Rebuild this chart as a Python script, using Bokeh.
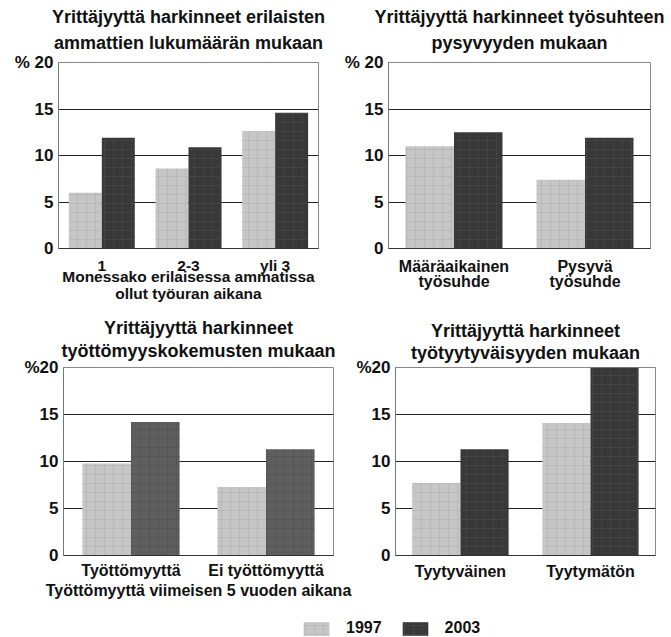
from bokeh.plotting import figure
from bokeh.layouts import column, row
from bokeh.models import (Range1d, FactorRange, FixedTicker, ColumnDataSource,
                          Legend, LegendItem, Title)
from bokeh.transform import dodge
from bokeh.embed import file_html
from bokeh.resources import INLINE

FONT = "Liberation Sans"

# ---- data ----
title1 = ["Yrittäjyyttä harkinneet erilaisten", "ammattien lukumäärän mukaan"]
cats1 = ["1", "2-3", "yli 3"]
v1997_1 = [6.0, 8.6, 12.6]
v2003_1 = [11.9, 10.9, 14.6]
xlabel1 = "Monessako erilaisessa ammatissa\nollut työuran aikana"

title2 = ["Yrittäjyyttä harkinneet työsuhteen", "pysyvyyden mukaan"]
cats2 = ["Määräaikainen\ntyösuhde", "Pysyvä\ntyösuhde"]
v1997_2 = [11.0, 7.4]
v2003_2 = [12.5, 11.9]

title3 = ["Yrittäjyyttä harkinneet", "työttömyyskokemusten mukaan"]
cats3 = ["Työttömyyttä", "Ei työttömyyttä"]
v1997_3 = [9.8, 7.3]
v2003_3 = [14.2, 11.3]
xlabel3 = "Työttömyyttä viimeisen 5 vuoden aikana"

title4 = ["Yrittäjyyttä harkinneet", "työtyytyväisyyden mukaan"]
cats4 = ["Tyytyväinen", "Tyytymätön"]
v1997_4 = [7.7, 14.1]
v2003_4 = [11.3, 20.0]

years = ["1997", "2003"]
y_ticks = [0, 5, 10, 15, 20]

C1997 = "#c6c6c6"
C2003 = "#383838"
TXT = "#111111"


def add_bars(p, src, bar_w, c2003, visible=True):
    r1 = p.vbar(x=dodge("cat", -bar_w / 2, range=p.x_range), top="a",
                width=bar_w, source=src, fill_color=C1997, line_color=None,
                hatch_pattern="+", hatch_color="#b0b0b0", hatch_alpha=0.6,
                hatch_scale=9, hatch_weight=1, visible=visible)
    r2 = p.vbar(x=dodge("cat", bar_w / 2, range=p.x_range), top="b",
                width=bar_w, source=src, fill_color=c2003, line_color=None,
                hatch_pattern="+", hatch_color="#4e4e4e", hatch_alpha=0.5,
                hatch_scale=9, hatch_weight=1, visible=visible)
    return r1, r2


def panel(title, cats, a, b, xlabel, width, height, borders, top_label,
          bar_w, c2003, t_std, tick_std, lab_std, tick_lh=1.0, xfs="16px"):
    l, r, t, btm = borders
    p = figure(width=width, height=height, x_range=FactorRange(*cats),
               y_range=Range1d(0, 20), toolbar_location=None, title=None,
               output_backend="svg", min_border_left=l, min_border_right=r,
               min_border_top=t, min_border_bottom=btm)
    src = ColumnDataSource(dict(cat=cats, a=a, b=b))
    add_bars(p, src, bar_w, c2003)

    # two centred title lines: first added sits next to the frame
    for txt, std in ((title[1], t_std[1]), (title[0], t_std[0])):
        p.add_layout(Title(text=txt, align="center", text_font=FONT,
                           text_font_size="18px", text_font_style="bold",
                           text_color=TXT, standoff=std), "above")

    p.yaxis.ticker = FixedTicker(ticks=y_ticks)
    p.yaxis.major_label_overrides = {20: top_label}
    p.yaxis.major_label_text_font = FONT
    p.yaxis.major_label_text_font_size = "17px"
    p.yaxis.major_label_text_font_style = "bold"
    p.yaxis.major_label_text_color = TXT
    p.yaxis.major_tick_line_color = None
    p.yaxis.minor_tick_line_color = None
    p.yaxis.major_tick_out = 0
    p.yaxis.major_tick_in = 0
    p.yaxis.minor_tick_out = 0
    p.yaxis.major_label_standoff = 5
    p.yaxis.axis_line_color = "#777777"

    p.xaxis.major_label_text_font = FONT
    p.xaxis.major_label_text_font_size = xfs
    p.xaxis.major_label_text_font_style = "bold"
    p.xaxis.major_label_text_color = TXT
    p.xaxis.major_label_text_line_height = tick_lh
    p.xaxis.major_tick_line_color = None
    p.xaxis.major_tick_out = 0
    p.xaxis.major_tick_in = 0
    p.xaxis.major_label_standoff = tick_std
    p.xaxis.axis_line_color = "#333333"
    if xlabel:
        p.xaxis.axis_label = xlabel
        p.xaxis.axis_label_text_font = FONT
        p.xaxis.axis_label_text_font_size = xfs
        p.xaxis.axis_label_text_font_style = "bold"
        p.xaxis.axis_label_text_color = TXT
        p.xaxis.axis_label_text_line_height = 1.0
        p.xaxis.axis_label_standoff = lab_std

    p.xgrid.visible = False
    p.ygrid.ticker = FixedTicker(ticks=y_ticks)
    p.ygrid.grid_line_color = "#222222"
    p.ygrid.grid_line_width = 1
    p.outline_line_color = "#888888"
    p.background_fill_color = "white"
    p.border_fill_color = "white"
    return p


H1 = 316
p1 = panel(title1, cats1, v1997_1, v2003_1, xlabel1, 338, H1,
           (58, 20, 62, H1 - 248), "% 20", 0.38, C2003, (-12, 20), 8, -9,
           xfs="15.5px")
p2 = panel(title2, cats2, v1997_2, v2003_2, None, 333, H1,
           (50, 21, 62, H1 - 250), "% 20", 0.37, C2003, (-12, 20), 9, 0,
           tick_lh=0.9)
H2 = 301
p3 = panel(title3, cats3, v1997_3, v2003_3, xlabel3, 353, H2,
           (63, 20, 51, H2 - 239), "%20", 0.36, "#5e5e5e", (-11, 13), 6, 0)
p4 = panel(title4, cats4, v1997_4, v2003_4, None, 318, H2,
           (40, 16, 51, H2 - 240), "%20", 0.37, C2003, (-8, 9), 7, 0)

# legend strip (hidden bars only provide the legend swatches)
lg = figure(width=671, height=20, toolbar_location=None, output_backend="svg",
            x_range=FactorRange(*cats1), y_range=Range1d(0, 20), min_border=0,
            title=None)
lg.axis.visible = False
lg.grid.visible = False
lg.outline_line_color = None
lsrc = ColumnDataSource(dict(cat=cats1, a=v1997_1, b=v2003_1))
r1, r2 = add_bars(lg, lsrc, 0.38, C2003, visible=False)
legend = Legend(items=[LegendItem(label=years[0], renderers=[r1]),
                       LegendItem(label=years[1], renderers=[r2])],
                orientation="horizontal", location=(300, 0),
                glyph_width=32, glyph_height=17, label_standoff=14, spacing=17,
                padding=0, margin=0, border_line_color=None,
                background_fill_alpha=0, inactive_fill_alpha=0,
                label_text_font=FONT, label_text_font_size="16px",
                label_text_font_style="bold", label_text_color=TXT)
lg.add_layout(legend)

layout = column(row(p1, p2), row(p3, p4), lg)
open("out.html", "w").write(file_html(layout, INLINE))
